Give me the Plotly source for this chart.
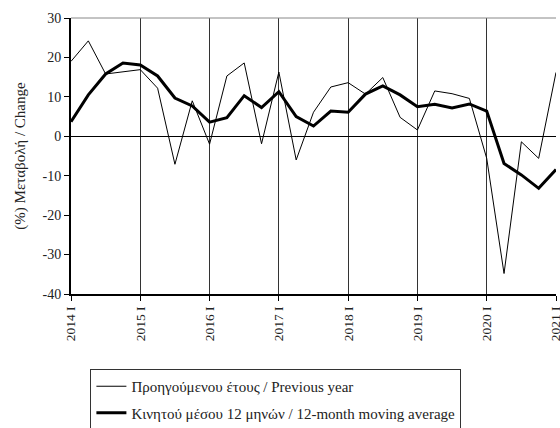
import plotly.graph_objects as go

quarters = list(range(29))
tick_positions = [0, 4, 8, 12, 16, 20, 24, 28]
tick_labels = ["2014 I", "2015 I", "2016 I", "2017 I", "2018 I", "2019 I", "2020 I", "2021 I"]
y_tick_values = [-40, -30, -20, -10, 0, 10, 20, 30]
y_tick_labels = ["-40", "-30", "-20", "-10", "0", "10", "20", "30"]

previous_year = [19.0, 24.2, 15.8, 16.4, 16.9, 12.2, -7.1, 9.0, -2.0, 15.3, 18.6, -1.9,
                 16.3, -6.0, 6.1, 12.5, 13.6, 10.7, 14.9, 4.8, 1.6, 11.5, 10.8, 9.6,
                 -5.6, -34.8, -1.4, -5.6, 16.2]
moving_avg = [3.7, 10.5, 15.8, 18.6, 18.1, 15.3, 9.7, 7.7, 3.6, 4.7, 10.3, 7.3,
              11.3, 5.0, 2.6, 6.4, 6.1, 10.7, 12.8, 10.5, 7.5, 8.1, 7.2, 8.2,
              6.4, -6.9, -9.8, -13.2, -8.4]

name_prev = "Προηγούμενου έτους / Previous year"
name_ma = "Κινητού μέσου 12 μηνών / 12-month moving average"

font_family = "Liberation Serif, DejaVu Serif, serif"

fig = go.Figure()
fig.add_trace(go.Scatter(x=quarters, y=previous_year, mode="lines", name=name_prev,
                         legendgroup="a", line=dict(color="black", width=1)))
fig.add_trace(go.Scatter(x=quarters, y=moving_avg, mode="lines", name=name_ma,
                         legendgroup="b", line=dict(color="black", width=3)))

fig.update_layout(
    width=560, height=428,
    margin=dict(l=71, r=4, t=18, b=134, autoexpand=False),
    paper_bgcolor="white", plot_bgcolor="white",
    font=dict(family=font_family, size=13, color="#222"),
    showlegend=True,
    legend=dict(x=0.04, xanchor="left", y=-0.2717, yanchor="top",
                bordercolor="#333", borderwidth=1, bgcolor="white",
                font=dict(family=font_family, size=15, color="#222"),
                traceorder="grouped", tracegroupgap=4, itemwidth=30),
    xaxis=dict(range=[0, 28], tickmode="array", tickvals=tick_positions, ticktext=tick_labels,
               tickangle=-90, showgrid=True, gridcolor="#333", gridwidth=1,
               showline=True, linecolor="black", linewidth=2, mirror=False,
               ticks="outside", ticklen=5, tickcolor="black", zeroline=False,
               ticklabeloverflow="allow", automargin=False,
               tickfont=dict(size=13.5)),
    yaxis=dict(range=[-40, 30], tickmode="array", tickvals=y_tick_values, ticktext=y_tick_labels,
               showgrid=False, zeroline=True, zerolinecolor="black", zerolinewidth=1,
               showline=True, linecolor="black", linewidth=2,
               ticks="outside", ticklen=5, tickcolor="black", automargin=False,
               title=dict(text="(%) Μεταβολή / Change", font=dict(size=15), standoff=13),
               tickfont=dict(size=14)),
)
fig.add_shape(type="line", xref="paper", yref="paper", x0=0, x1=1, y0=1, y1=1,
              line=dict(color="#888", width=1))
fig.write_html("out.html",
               config={"displayModeBar": False},
               post_script="document.body.style.margin='0';document.body.style.overflow='hidden';")
